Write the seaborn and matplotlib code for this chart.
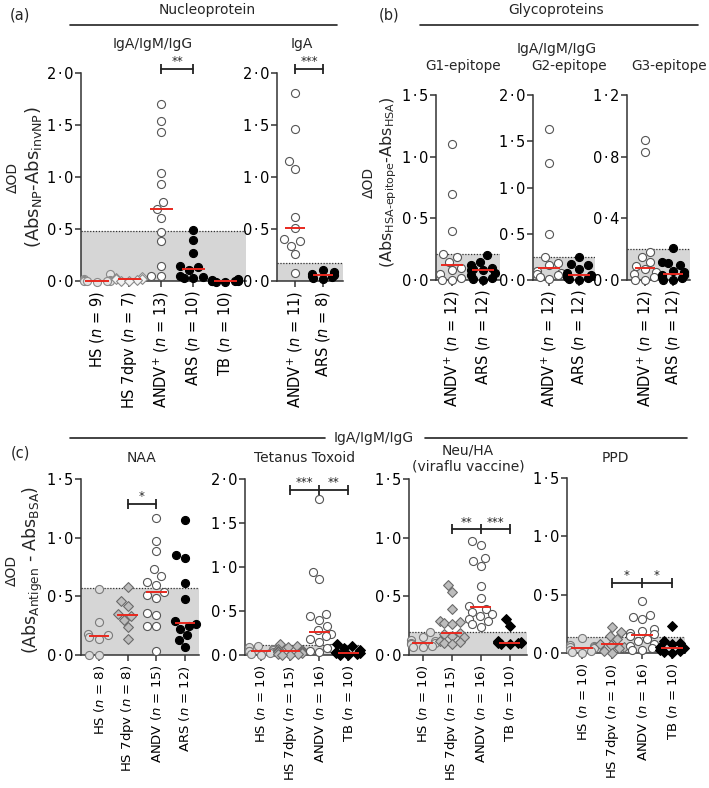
import numpy as np
import pandas as pd
import matplotlib
matplotlib.use("Agg")
import matplotlib.pyplot as plt
import seaborn as sns
from matplotlib.ticker import FuncFormatter
from matplotlib.lines import Line2D

sns.set_style("ticks")
plt.rcParams["font.family"] = ["DejaVu Sans"]
plt.rcParams["mathtext.fontset"] = "dejavusans"

# ---------------- data ----------------
# (a) Nucleoprotein, IgA/IgM/IgG
np_all_groups = ["HS", "HS 7dpv", "ANDV+", "ARS", "TB"]
np_all_labels = ["HS ($n$ = 9)", "HS 7dpv ($n$ = 7)", "ANDV$^{+}$ ($n$ = 13)",
                 "ARS ($n$ = 10)", "TB ($n$ = 10)"]
np_all_hs = [0.07, 0.02, 0.01, 0.01, 0.0, 0.0, 0.0, 0.0, -0.01]
np_all_hs7 = [0.04, 0.03, 0.02, 0.02, 0.01, 0.0, 0.0]
np_all_andv = [1.70, 1.54, 1.43, 1.04, 0.93, 0.76, 0.69, 0.61, 0.47, 0.38, 0.14, 0.05, 0.05]
np_all_ars = [0.49, 0.39, 0.27, 0.14, 0.13, 0.11, 0.05, 0.04, 0.03, 0.03]
np_all_tb = [0.02, 0.01, 0.01, 0.01, 0.0, 0.0, 0.0, -0.01, -0.01, 0.0]
np_all_cutoff = 0.48

# (a) Nucleoprotein, IgA
np_iga_groups = ["ANDV+", "ARS"]
np_iga_labels = ["ANDV$^{+}$ ($n$ = 11)", "ARS ($n$ = 8)"]
np_iga_andv = [1.81, 1.46, 1.15, 1.08, 0.62, 0.51, 0.40, 0.38, 0.34, 0.26, 0.08]
np_iga_ars = [0.11, 0.09, 0.07, 0.06, 0.05, 0.04, 0.03, 0.02]
np_iga_cutoff = 0.17

# (b) Glycoproteins
gp_groups = ["ANDV+", "ARS"]
gp_labels = ["ANDV$^{+}$ ($n$ = 12)", "ARS ($n$ = 12)"]
g1_andv = [1.10, 0.70, 0.40, 0.21, 0.19, 0.15, 0.10, 0.08, 0.05, 0.02, 0.0, 0.0]
g1_ars = [0.20, 0.15, 0.12, 0.10, 0.09, 0.08, 0.08, 0.06, 0.04, 0.02, 0.01, 0.0]
g1_cutoff = 0.21
g2_andv = [1.63, 1.26, 0.50, 0.25, 0.18, 0.16, 0.10, 0.08, 0.07, 0.05, 0.03, 0.01]
g2_ars = [0.25, 0.17, 0.16, 0.12, 0.08, 0.05, 0.05, 0.04, 0.03, 0.02, 0.01, 0.0]
g2_cutoff = 0.25
g3_andv = [0.91, 0.83, 0.18, 0.15, 0.12, 0.09, 0.07, 0.05, 0.04, 0.02, 0.0, 0.0]
g3_ars = [0.21, 0.12, 0.11, 0.10, 0.06, 0.05, 0.03, 0.03, 0.02, 0.01, 0.0, 0.0]
g3_cutoff = 0.20

# (c) other antigens
naa_groups = ["HS", "HS 7dpv", "ANDV", "ARS"]
naa_labels = ["HS ($n$ = 8)", "HS 7dpv ($n$ = 8)", "ANDV ($n$ = 15)", "ARS ($n$ = 12)"]
naa_hs = [0.56, 0.28, 0.18, 0.17, 0.15, 0.14, 0.0, 0.0]
naa_hs7 = [0.58, 0.46, 0.42, 0.35, 0.33, 0.30, 0.24, 0.14]
naa_andv = [1.17, 0.97, 0.89, 0.73, 0.67, 0.62, 0.60, 0.54, 0.51, 0.49, 0.36, 0.34, 0.25, 0.25, 0.03]
naa_ars = [1.15, 0.85, 0.83, 0.61, 0.48, 0.29, 0.26, 0.25, 0.22, 0.17, 0.13, 0.07]
naa_cutoff = 0.57

tt_groups = ["HS", "HS 7dpv", "ANDV", "TB"]
tt_labels = ["HS ($n$ = 10)", "HS 7dpv ($n$ = 15)", "ANDV ($n$ = 16)", "TB ($n$ = 10)"]
tt_hs = [0.10, 0.09, 0.07, 0.06, 0.05, 0.04, 0.03, 0.02, 0.01, 0.0]
tt_hs7 = [0.12, 0.10, 0.09, 0.07, 0.06, 0.05, 0.04, 0.04, 0.03, 0.03, 0.02, 0.01, 0.01, 0.0, 0.0]
tt_andv = [1.77, 0.94, 0.86, 0.47, 0.44, 0.40, 0.33, 0.28, 0.24, 0.22, 0.18, 0.15, 0.08, 0.08, 0.05, 0.03]
tt_tb = [0.13, 0.10, 0.08, 0.06, 0.03, 0.02, 0.02, 0.01, 0.0, 0.0]
tt_cutoff = 0.11

flu_groups = ["HS", "HS 7dpv", "ANDV", "TB"]
flu_labels = ["HS ($n$ = 10)", "HS 7dpv ($n$ = 15)", "ANDV ($n$ = 16)", "TB ($n$ = 10)"]
flu_hs = [0.20, 0.15, 0.13, 0.12, 0.10, 0.10, 0.09, 0.08, 0.07, 0.07]
flu_hs7 = [0.60, 0.54, 0.39, 0.29, 0.28, 0.27, 0.26, 0.19, 0.18, 0.16, 0.15, 0.12, 0.11, 0.10, 0.09]
flu_andv = [0.97, 0.94, 0.83, 0.80, 0.76, 0.59, 0.49, 0.42, 0.39, 0.37, 0.35, 0.33, 0.31, 0.29, 0.26, 0.24]
flu_tb = [0.31, 0.25, 0.12, 0.11, 0.11, 0.10, 0.10, 0.10, 0.09, 0.09]
flu_cutoff = 0.20

ppd_groups = ["HS", "HS 7dpv", "ANDV", "TB"]
ppd_labels = ["HS ($n$ = 10)", "HS 7dpv ($n$ = 10)", "ANDV ($n$ = 16)", "TB ($n$ = 10)"]
ppd_hs = [0.13, 0.07, 0.06, 0.05, 0.05, 0.04, 0.03, 0.02, 0.01, 0.0]
ppd_hs7 = [0.22, 0.18, 0.15, 0.12, 0.08, 0.07, 0.05, 0.04, 0.02, 0.0]
ppd_andv = [0.45, 0.33, 0.31, 0.29, 0.21, 0.19, 0.17, 0.16, 0.15, 0.12, 0.10, 0.08, 0.06, 0.04, 0.03, 0.03]
ppd_tb = [0.23, 0.10, 0.09, 0.08, 0.05, 0.04, 0.03, 0.02, 0.01, 0.0]
ppd_cutoff = 0.14

# ---------------- styling ----------------
W, H = 709, 788
fig = plt.figure(figsize=(W / 100, H / 100), dpi=100)
RED = "#e8281e"
SHADE = "#d6d6d6"
AX = "#333333"
FS_T = 10        # titles
FS_Y = 10.5      # y tick labels

ST_HS_A = dict(m="o", fc="#e4e4e4", ec="#8a8a8a", s=5.8)
ST_HS7_A = dict(m="D", fc="#f2f2f2", ec="#8a8a8a", s=5)
ST_HS_C = dict(m="o", fc="#dcdcdc", ec="#7a7a7a", s=5.8)
ST_HS7_C = dict(m="D", fc="#bdbdbd", ec="#6a6a6a", s=5)
ST_OPEN = dict(m="o", fc="white", ec="#555555", s=5.8)
ST_BLACK = dict(m="o", fc="black", ec="black", s=5.8)
ST_BLACK_D = dict(m="D", fc="black", ec="black", s=5)

fmt = FuncFormatter(lambda v, _: f"{v:.1f}".replace(".", "\u200a\u00b7\u200a"))


def panel(box, top, step, groups, labels, values, styles, cutoff, xlim,
          fs_x=10.5, pad=0.035):
    x0, x1, yt, yz = box
    span = yz - yt
    yb = yz + span * pad
    ax = fig.add_axes([x0 / W, 1 - yb / H, (x1 - x0) / W, (yb - yt) / H])
    ax.axhspan(0, cutoff, color=SHADE, lw=0, zorder=0)
    ax.axhline(cutoff, color="#333333", lw=0.9, ls=(0, (1, 1.3)), zorder=1)
    for i, (g, vals, st) in enumerate(zip(groups, values, styles)):
        df = pd.DataFrame({"group": [g] * len(vals), "value": vals})
        sns.swarmplot(data=df, x="group", y="value", order=groups, ax=ax,
                      marker=st["m"], color=st["fc"], edgecolor=st["ec"],
                      linewidth=0.8, size=st["s"], warn_thresh=1, zorder=3,
                      clip_on=False)
        ax.hlines(np.median(vals), i - 0.36, i + 0.36, colors=RED, lw=1.4, zorder=5)
    ax.set_xlim(*xlim)
    ax.set_ylim(-pad * top, top)
    for s in ["top", "right"]:
        ax.spines[s].set_visible(False)
    ax.spines["bottom"].set_position(("data", 0))
    ax.spines["left"].set_bounds(0, top)
    for s in ["left", "bottom"]:
        ax.spines[s].set_color(AX)
        ax.spines[s].set_linewidth(1.1)
    ax.set_yticks(np.arange(0, top + 1e-9, step))
    ax.yaxis.set_major_formatter(fmt)
    ax.set_xticks(range(len(groups)))
    ax.set_xticklabels(labels, rotation=90, fontsize=fs_x)
    ax.tick_params(axis="both", colors=AX, length=4, width=1.1, labelcolor="black")
    ax.tick_params(axis="y", pad=1.5, labelsize=FS_Y)
    ax.tick_params(axis="x", pad=3)
    ax.set_xlabel("")
    ax.set_ylabel("")
    ax.patch.set_alpha(0)
    return ax


def bracket(ax, xs, y, stars):
    ax.plot(xs, [y] * len(xs), color="#222222", lw=1.3, marker="|", ms=7,
            mew=1.3, clip_on=False, zorder=6)
    for a, b, s in zip(xs[:-1], xs[1:], stars):
        ax.annotate(s, ((a + b) / 2, y), xytext=(0, 0.5), textcoords="offset points",
                    ha="center", va="bottom", fontsize=8.5, annotation_clip=False)


def ftext(x, y, s, **kw):
    kw.setdefault("fontsize", FS_T)
    kw.setdefault("ha", "center")
    kw.setdefault("va", "center")
    fig.text(x / W, 1 - y / H, s, **kw)


def fline(x0, x1, y):
    fig.add_artist(Line2D([x0 / W, x1 / W], [1 - y / H] * 2, color="#222222", lw=1.2))


# ---------------- (a) ----------------
a1 = panel((81, 246, 73, 281), 2.0, 0.5, np_all_groups, np_all_labels,
           [np_all_hs, np_all_hs7, np_all_andv, np_all_ars, np_all_tb],
           [ST_HS_A, ST_HS7_A, ST_OPEN, ST_BLACK, ST_BLACK], np_all_cutoff, (-0.5, 4.65))
bracket(a1, [2, 3], 2.04, ["**"])
a2 = panel((277, 343, 73, 281), 2.0, 0.5, np_iga_groups, np_iga_labels,
           [np_iga_andv, np_iga_ars], [ST_OPEN, ST_BLACK], np_iga_cutoff, (-0.64, 1.71))
bracket(a2, [0, 1], 2.04, ["***"])

ftext(20, 15, "(a)", fontsize=10.5)
ftext(207, 10, "Nucleoprotein")
fline(70, 337, 25)
ftext(153, 44, "IgA/IgM/IgG")
ftext(302, 44, "IgA")
ftext(13, 177, "\u0394OD", rotation=90, fontsize=10)
ftext(33, 177, r"(Abs$_{\mathrm{NP}}$-Abs$_{\mathrm{invNP}}$)", rotation=90, fontsize=13)

# ---------------- (b) ----------------
panel((436, 500, 95, 280), 1.5, 0.5, gp_groups, gp_labels, [g1_andv, g1_ars],
      [ST_OPEN, ST_BLACK], g1_cutoff, (-0.52, 1.55))
panel((533, 595, 95, 280), 2.0, 0.5, gp_groups, gp_labels, [g2_andv, g2_ars],
      [ST_OPEN, ST_BLACK], g2_cutoff, (-0.53, 1.53))
panel((627, 690, 95, 280), 1.2, 0.4, gp_groups, gp_labels, [g3_andv, g3_ars],
      [ST_OPEN, ST_BLACK], g3_cutoff, (-0.64, 1.61))

ftext(389, 15, "(b)", fontsize=10.5)
ftext(556, 10, "Glycoproteins")
fline(420, 698, 25)
ftext(557, 49, "IgA/IgM/IgG")
ftext(463, 66, "G1-epitope", fontsize=9.8)
ftext(569, 66, "G2-epitope", fontsize=9.8)
ftext(669, 66, "G3-epitope", fontsize=9.8)
ftext(369, 182, "\u0394OD", rotation=90, fontsize=10)
ftext(389, 182, "(Abs$_{\\mathrm{HSA\u2010epitope}}$-Abs$_{\\mathrm{HSA}}$)",
      rotation=90, fontsize=11.5)

# ---------------- (c) ----------------
FXC = 9.5
c1 = panel((81, 199, 479, 655), 1.5, 0.5, naa_groups, naa_labels,
           [naa_hs, naa_hs7, naa_andv, naa_ars],
           [ST_HS_C, ST_HS7_C, ST_OPEN, ST_BLACK], naa_cutoff, (-0.63, 3.49), fs_x=FXC)
bracket(c1, [1, 2], 1.29, ["*"])
c2 = panel((245, 360, 479, 655), 2.0, 0.5, tt_groups, tt_labels,
           [tt_hs, tt_hs7, tt_andv, tt_tb],
           [ST_HS_C, ST_HS7_C, ST_OPEN, ST_BLACK_D], tt_cutoff, (-0.55, 3.41), fs_x=FXC)
bracket(c2, [1, 2, 3], 1.88, ["***", "**"])
c3 = panel((409, 527, 479, 655), 1.5, 0.5, flu_groups, flu_labels,
           [flu_hs, flu_hs7, flu_andv, flu_tb],
           [ST_HS_C, ST_HS7_C, ST_OPEN, ST_BLACK_D], flu_cutoff, (-0.48, 3.59), fs_x=FXC)
bracket(c3, [1, 2, 3], 1.07, ["**", "***"])
c4 = panel((567, 685, 478, 653), 1.5, 0.5, ppd_groups, ppd_labels,
           [ppd_hs, ppd_hs7, ppd_andv, ppd_tb],
           [ST_HS_C, ST_HS7_C, ST_OPEN, ST_BLACK_D], ppd_cutoff, (-0.5, 3.43), fs_x=FXC)
bracket(c4, [1, 2, 3], 0.60, ["*", "*"])

fline(70, 325, 438)
fline(425, 687, 438)
ftext(374, 438, "IgA/IgM/IgG")
ftext(20, 453, "(c)", fontsize=10.5)
ftext(142, 458, "NAA")
ftext(305, 458, "Tetanus Toxoid")
ftext(468, 450, "Neu/HA")
ftext(468, 467, "(viraflu vaccine)")
ftext(615, 458, "PPD")
ftext(12, 570, "\u0394OD", rotation=90, fontsize=10)
ftext(33, 570, r"(Abs$_{\mathrm{Antigen}}$ - Abs$_{\mathrm{BSA}}$)", rotation=90, fontsize=12.5)

fig.savefig("out.png", dpi=100)
